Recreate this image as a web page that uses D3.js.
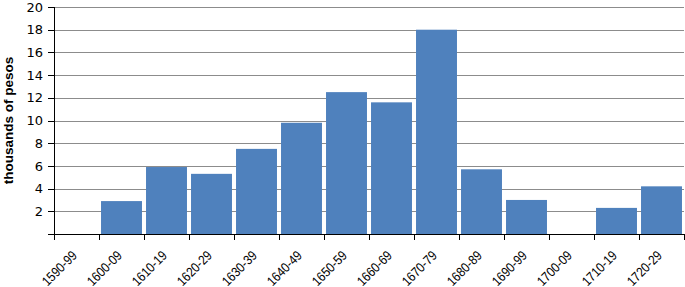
<!DOCTYPE html>
<html lang="en">
<head>
    <meta charset="UTF-8">
    <title>thousands of pesos</title>
    <script src="https://d3js.org/d3.v7.min.js"></script>
    <style>
        body{
            margin:0;
            background:#fff;
        }
        .axis path,
        .axis line{
            fill:none;
            stroke:black;
            shape-rendering:crispEdges;
        }
        .axis text{
            font-family:"DejaVu Sans", Arial, sans-serif;
            font-size:13px;
            fill:black;
        }
        .xlabels text{
            font-family:"Liberation Sans", Arial, sans-serif;
            font-size:13.5px;
            fill:black;
        }
        .grid line{
            stroke:#8c8c8c;
            shape-rendering:crispEdges;
        }
    </style>
</head>
<body>
    <script>
        // data
        var decades = ["1590-99","1600-09","1610-19","1620-29","1630-39","1640-49","1650-59",
                       "1660-69","1670-79","1680-89","1690-99","1700-09","1710-19","1720-29"];
        var pesos = [0, 2.9, 5.9, 5.3, 7.5, 9.8, 12.5, 11.6, 18.0, 5.7, 3.0, 0, 2.3, 4.2];
        var yTicks = [0,2,4,6,8,10,12,14,16,18,20];

        var w = 685;
        var h = 287;
        var padL = 54, padR = 684, padT = 7, padB = 234;

        var svg = d3.select("body")
            .append("svg")
            .attr("width", w)
            .attr("height", h);

        var xScale = d3.scaleBand()
            .domain(decades)
            .range([padL, padR])
            .paddingInner(0.09)
            .paddingOuter(0.045);

        // boundary ticks between categories
        var edgeScale = d3.scaleLinear()
            .domain([0, decades.length])
            .range([padL, padR]);

        var yScale = d3.scaleLinear()
            .domain([0, 20])
            .range([padB, padT]);

        // gridlines
        svg.append("g")
            .classed("grid", true)
            .selectAll("line")
            .data(yTicks.filter(d => d > 0))
            .enter()
            .append("line")
            .attr("x1", padL)
            .attr("x2", padR)
            .attr("y1", d => yScale(d) + 0.5)
            .attr("y2", d => yScale(d) + 0.5);

        // bars
        svg.append("g")
            .selectAll("rect")
            .data(pesos)
            .enter()
            .append("rect")
            .attr("x", (d, i) => xScale(decades[i]))
            .attr("y", d => yScale(d))
            .attr("width", xScale.bandwidth())
            .attr("height", d => padB - yScale(d))
            .attr("fill", "#4f81bd");

        // y axis
        var yAxis = d3.axisLeft(yScale)
            .tickValues(yTicks)
            .tickSize(6)
            .tickPadding(5)
            .tickFormat(d => d === 0 ? "" : d);

        svg.append("g")
            .classed("axis", true)
            .attr("transform", `translate(${padL}, 0)`)
            .call(yAxis)
            .call(g => g.select(".domain").attr("d", `M0.5,${padT}V${padB + 0.5}`));

        // x axis (ticks on category edges)
        var xAxis = d3.axisBottom(edgeScale)
            .tickValues(d3.range(decades.length + 1))
            .tickSize(6)
            .tickFormat("");

        svg.append("g")
            .classed("axis", true)
            .attr("transform", `translate(0, ${padB})`)
            .call(xAxis)
            .call(g => g.select(".domain").attr("d", `M${padL},0.5H${padR}`));

        // rotated category labels (narrowed like the original's font)
        svg.append("g")
            .classed("xlabels", true)
            .selectAll("text")
            .data(decades)
            .enter()
            .append("text")
            .attr("text-anchor", "end")
            .attr("textLength", 43)
            .attr("lengthAdjust", "spacingAndGlyphs")
            .attr("transform", d => `translate(${xScale(d) + xScale.bandwidth() / 2 - 2}, 253) rotate(-45)`)
            .attr("dy", "0.35em")
            .text(d => d);

        // y label
        svg.append("text")
            .attr("transform", `translate(13, ${(padT + padB) / 2}) rotate(-90)`)
            .attr("text-anchor", "middle")
            .attr("font-family", "Liberation Sans, Arial, sans-serif")
            .attr("font-size", 13.5)
            .attr("font-weight", "bold")
            .text("thousands of pesos");
    </script>
</body>
</html>
